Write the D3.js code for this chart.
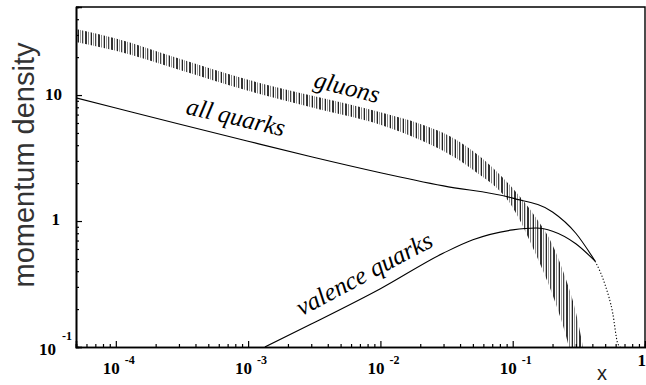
<!DOCTYPE html>
<html>
<head>
<meta charset="utf-8">
<script src="https://cdn.jsdelivr.net/npm/d3@7"></script>
<style>
  body { margin: 0; background: #fff; }
  svg { display: block; }
  .serif { font-family: 'Liberation Serif', serif; }
  .sans { font-family: 'Liberation Sans', Arial, Helvetica, sans-serif; }
</style>
</head>
<body>
<svg id="chart"></svg>
<script>
// x values are momentum fractions, y values are x*f(x)
let gluonX  = [5e-5, 1e-4, 3e-4, 1e-3, 3e-3, 0.01, 0.02, 0.03, 0.05, 0.1, 0.15, 0.2, 0.25, 0.3, 0.34]
let gluonHi = [33.4, 28.1, 19.5, 13.2, 9.9, 7.3, 5.9, 5.0, 3.6, 1.82, 1.06, 0.645, 0.356, 0.19, 0.1]
let gluonLo = [26.4, 22.5, 15.9, 10.8, 8.0, 5.8, 4.4, 3.6, 2.55, 1.28, 0.54, 0.26, 0.128, 0.06, 0.04]

let quarkX = [5e-5, 1e-4, 3e-4, 1e-3, 3e-3, 0.01, 0.03, 0.1, 0.2, 0.3, 0.42, 0.5, 0.57, 0.62, 0.65]
let quarkY = [9.5, 7.9, 5.9, 4.3, 3.24, 2.42, 1.90, 1.52, 1.18, 0.80, 0.48, 0.31, 0.186, 0.108, 0.1]

let valenceX = [1.34e-3, 3e-3, 0.01, 0.03, 0.05, 0.1, 0.15, 0.2, 0.3, 0.42]
let valenceY = [0.1, 0.152, 0.29, 0.557, 0.71, 0.85, 0.88, 0.83, 0.66, 0.48]

let xMajor = [1e-4, 1e-3, 1e-2, 1e-1]
let xMajorExp = ['-4', '-3', '-2', '-1']
let yMajor = [0.1, 1, 10]

let width = 646
let height = 385
let margin = {left: 76, right: 1, top: 7, bottom: 38}

let svg = d3.select('#chart')
let xScale
let yScale

let drawCanvas = () => {
    svg.attr('width', width)
       .attr('height', height)

    let defs = svg.append('defs')
    defs.append('clipPath')
        .attr('id', 'plot-clip')
        .append('rect')
        .attr('x', margin.left)
        .attr('y', margin.top)
        .attr('width', width - margin.left - margin.right)
        .attr('height', height - margin.top - margin.bottom)

    // hatching of the gluon band: vertical strokes in several greys
    let pat = defs.append('pattern')
        .attr('id', 'hatch')
        .attr('patternUnits', 'userSpaceOnUse')
        .attr('width', 13)
        .attr('height', 7)
    let strokes = [[0, 1, '#222'], [2, 1, '#999'], [4, 1, '#444'], [5, 1, '#ccc'], [7, 2, '#333'], [10, 1, '#888'], [12, 1, '#bbb']]
    strokes.forEach(s => {
        pat.append('rect').attr('x', s[0]).attr('y', 0).attr('width', s[1]).attr('height', 7).attr('fill', s[2])
    })
}

let generateScales = () => {
    xScale = d3.scaleLog()
               .domain([5e-5, 1])
               .range([margin.left, width - margin.right])
    yScale = d3.scaleLog()
               .domain([0.1, 50])
               .range([height - margin.bottom, margin.top])
}

let drawAxes = () => {
    let x0 = margin.left
    let x1 = width - margin.right
    let y0 = height - margin.bottom
    let y1 = margin.top

    let minorX = xScale.ticks().filter(v => xMajor.indexOf(v) < 0 && v < 1)
    let minorY = yScale.ticks().filter(v => yMajor.indexOf(v) < 0)

    svg.append('g')
       .attr('class', 'axis')
       .attr('transform', 'translate(0,' + y0 + ')')
       .call(d3.axisBottom(xScale).tickValues(minorX).tickSize(-3).tickFormat(''))
    svg.append('g')
       .attr('class', 'axis')
       .attr('transform', 'translate(0,' + y0 + ')')
       .call(d3.axisBottom(xScale).tickValues(xMajor).tickSize(-6).tickFormat(''))

    svg.append('g')
       .attr('class', 'axis')
       .attr('transform', 'translate(' + x0 + ',0)')
       .call(d3.axisLeft(yScale).tickValues(minorY).tickSize(-3).tickFormat(''))
    svg.append('g')
       .attr('class', 'axis')
       .attr('transform', 'translate(' + x0 + ',0)')
       .call(d3.axisLeft(yScale).tickValues(yMajor).tickSize(-6).tickFormat(''))

    svg.selectAll('.axis path').attr('stroke', '#000').attr('stroke-width', 1.6)
    svg.selectAll('.axis line').attr('stroke', '#000').attr('stroke-width', 1.2)

    // frame top and right
    svg.append('path')
       .attr('d', 'M' + x0 + ',' + y1 + 'H' + x1 + 'V' + y0)
       .attr('fill', 'none')
       .attr('stroke', '#000')
       .attr('stroke-width', 1.4)

    // x tick labels: 10 with a superscript
    let lab = svg.append('g')
                 .attr('class', 'serif')
                 .attr('font-weight', 'bold')
    xMajor.forEach((v, i) => {
        let px = xScale(v)
        lab.append('text').attr('x', px + 4).attr('y', 374)
           .attr('text-anchor', 'end').attr('font-size', 17).text('10')
        lab.append('text').attr('x', px + 9).attr('y', 364)
           .attr('font-size', 12).text(xMajorExp[i])
    })
    lab.append('text').attr('x', 646).attr('y', 366)
       .attr('text-anchor', 'end').attr('font-size', 17).text('1')

    // y tick labels
    lab.append('text').attr('x', 56).attr('y', yScale(0.1) + 8)
       .attr('text-anchor', 'end').attr('font-size', 17).text('10')
    lab.append('text').attr('x', 62).attr('y', yScale(0.1) - 7)
       .attr('font-size', 12).text('-1')
    lab.append('text').attr('x', 60).attr('y', yScale(1) + 4)
       .attr('text-anchor', 'end').attr('font-size', 17).text('1')
    lab.append('text').attr('x', 62).attr('y', yScale(10) + 5)
       .attr('text-anchor', 'end').attr('font-size', 17).text('10')

    // axis titles
    svg.append('text')
       .attr('class', 'sans')
       .attr('transform', 'translate(34,165) rotate(-90)')
       .attr('text-anchor', 'middle')
       .attr('font-size', 29)
       .attr('fill', '#333')
       .text('momentum density')
    svg.append('text')
       .attr('class', 'sans')
       .attr('x', 602).attr('y', 380)
       .attr('text-anchor', 'middle')
       .attr('font-size', 20)
       .attr('fill', '#222')
       .text('x')
}

let drawCurves = () => {
    let plot = svg.append('g').attr('clip-path', 'url(#plot-clip)')

    let gluons = gluonX.map((v, i) => ({x: v, lo: gluonLo[i], hi: gluonHi[i]}))
    let area = d3.area()
                 .x(d => xScale(d.x))
                 .y0(d => yScale(d.lo))
                 .y1(d => yScale(d.hi))
                 .curve(d3.curveMonotoneX)
    plot.append('path')
        .datum(gluons)
        .attr('d', area)
        .attr('fill', 'url(#hatch)')

    let line = d3.line()
                 .x(d => xScale(d.x))
                 .y(d => yScale(d.y))
                 .curve(d3.curveMonotoneX)

    let quarks = quarkX.map((v, i) => ({x: v, y: quarkY[i]}))
    plot.append('path')
        .datum(quarks.filter(d => d.x <= 0.42))
        .attr('d', line)
        .attr('fill', 'none')
        .attr('stroke', '#000')
        .attr('stroke-width', 1.1)
    plot.append('path')
        .datum(quarks.filter(d => d.x >= 0.42))
        .attr('d', line)
        .attr('fill', 'none')
        .attr('stroke', '#000')
        .attr('stroke-width', 1.1)
        .attr('stroke-dasharray', '1.2,2')

    let valence = valenceX.map((v, i) => ({x: v, y: valenceY[i]}))
    plot.append('path')
        .datum(valence)
        .attr('d', line)
        .attr('fill', 'none')
        .attr('stroke', '#000')
        .attr('stroke-width', 1.1)
}

let drawLabels = () => {
    let g = svg.append('g')
               .attr('class', 'serif')
               .attr('font-style', 'italic')
               .attr('font-size', 25)
               .attr('text-anchor', 'middle')
    g.append('text').attr('transform', 'translate(345,95) rotate(14)').text('gluons')
    g.append('text').attr('transform', 'translate(234,125) rotate(13)').text('all quarks')
    g.append('text').attr('transform', 'translate(368,281) rotate(-28)').text('valence quarks')
}

drawCanvas()
generateScales()
drawCurves()
drawAxes()
drawLabels()
</script>
</body>
</html>
